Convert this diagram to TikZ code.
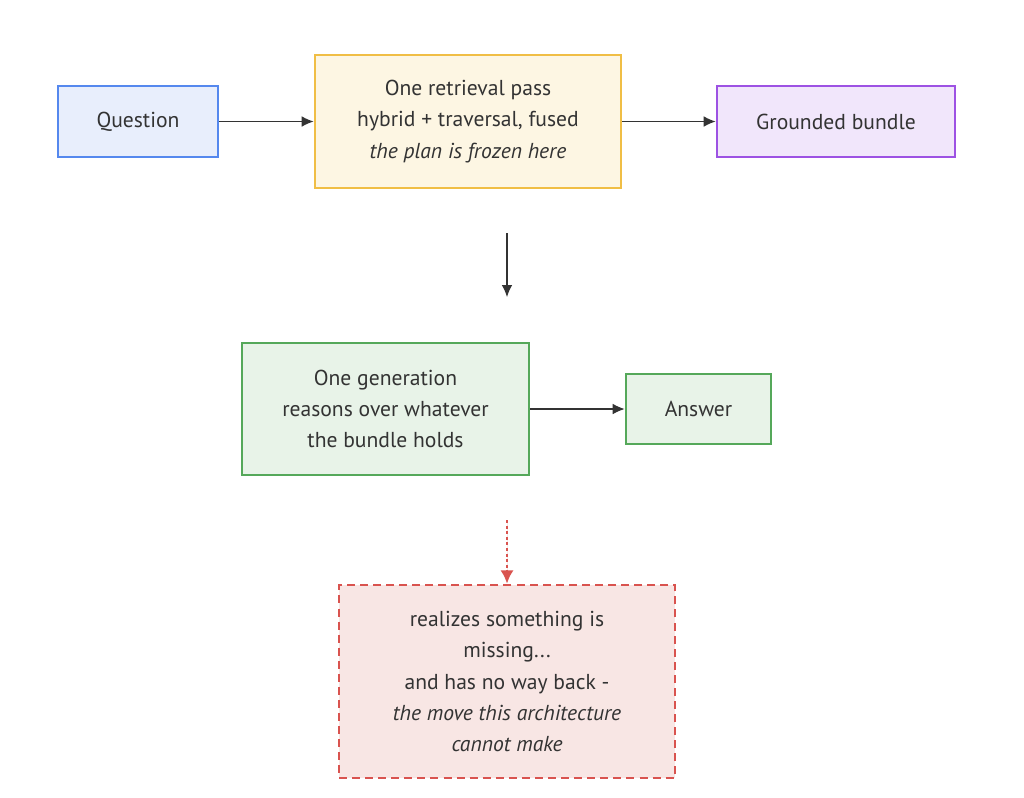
\documentclass[tikz,border=0pt]{standalone}
\usepackage{fontspec}
\setmainfont{PT Sans}
\usetikzlibrary{arrows.meta}
\definecolor{txt}{HTML}{333333}
\definecolor{qline}{HTML}{5588EE}
\definecolor{qfill}{HTML}{E8EEFC}
\definecolor{rline}{HTML}{F0BE45}
\definecolor{rfill}{HTML}{FDF6E3}
\definecolor{bline}{HTML}{9D52E3}
\definecolor{bfill}{HTML}{F1E6FB}
\definecolor{gline}{HTML}{55A85A}
\definecolor{gfill}{HTML}{E8F3E8}
\definecolor{mline}{HTML}{D9534F}
\definecolor{mfill}{HTML}{F8E6E4}
\tikzset{
	box/.style={draw, line width=2pt, align=center, text=txt, inner sep=0pt,
		font=\fontsize{16.2pt}{23.3pt}\selectfont},
	link/.style={draw=txt, line width=0.9pt, -{Latex[length=9pt,width=8pt]}}
}
\begin{document}
\begin{tikzpicture}[x=0.75pt,y=-0.75pt]
			\useasboundingbox[fill=white] (0,0) rectangle (1024,797);
			\node[box, draw=qline, fill=qfill, minimum width=160*0.75pt, minimum height=71*0.75pt] (question) at (138,121.5) {Question};
			\node[box, draw=rline, fill=rfill, minimum width=306*0.75pt, minimum height=133*0.75pt] (retrieval) at (468,121.5) {One retrieval pass\\hybrid + traversal, fused\\\textit{the plan is frozen here}};
			\node[box, draw=bline, fill=bfill, minimum width=238*0.75pt, minimum height=71*0.75pt] (bundle) at (836,121.5) {Grounded bundle};
			\node[box, draw=gline, fill=gfill, minimum width=287*0.75pt, minimum height=132*0.75pt] (generation) at (385.5,409) {One generation\\reasons over whatever\\the bundle holds};
			\node[box, draw=gline, fill=gfill, minimum width=145*0.75pt, minimum height=70*0.75pt] (answer) at (698.5,409) {Answer};
			\node[box, draw=mline, fill=mfill, dashed, dash pattern=on 6pt off 3.8pt, minimum width=336*0.75pt, minimum height=193*0.75pt] (missing) at (507,681.5) {realizes something is\\missing...\\and has no way back -\\\textit{the move this architecture}\\\textit{cannot make}};
			\coordinate (gapTop) at (507,233);
			\coordinate (gapBot) at (507,297);
			\coordinate (dotTop) at (507,520);
			\draw[link] (question) -- (retrieval);
			\draw[link] (retrieval) -- (bundle);
			\draw[link] (gapTop) -- (gapBot);
			\draw[link] (generation) -- (answer);
			\draw[link, draw=mline, fill=mline, line width=2.2pt, dash pattern=on 2.2pt off 2pt, -{Latex[length=10pt,width=10pt]}] (dotTop) -- (missing.north);
			\end{tikzpicture}
\end{document}
